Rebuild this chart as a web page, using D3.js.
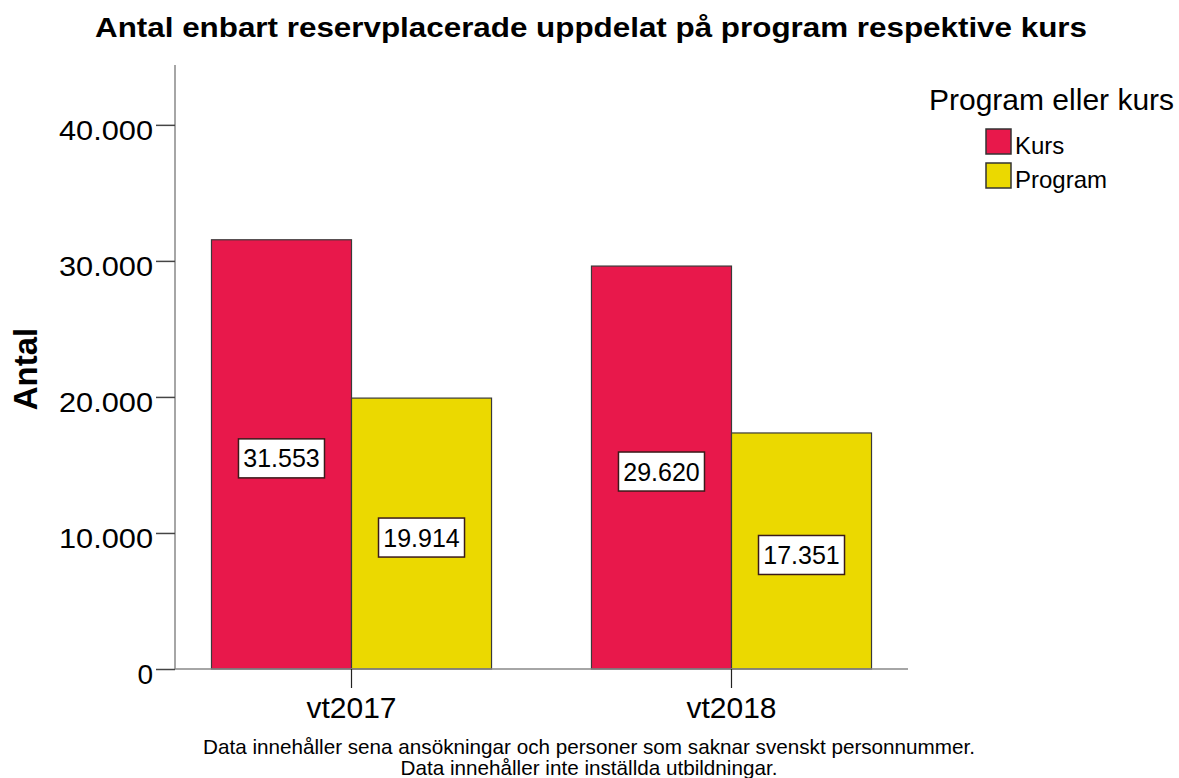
<!DOCTYPE html>
<html>
<head>
<meta charset="utf-8">
<script src="https://cdn.jsdelivr.net/npm/d3@7"></script>
<style>
  body { margin: 0; background: #fff; }
  text { font-family: "Liberation Sans", Arial, sans-serif; fill: #000; }
</style>
</head>
<body>
<svg id="chart" width="1179" height="778"></svg>
<script>
// data
var terms = ["vt2017", "vt2018"];
var types = ["Kurs", "Program"];
var kursValues = [31553, 29620];
var programValues = [19914, 17351];
var yTicks = [0, 10000, 20000, 30000, 40000];
var footnotes = [
  "Data innehåller sena ansökningar och personer som saknar svenskt personnummer.",
  "Data innehåller inte inställda utbildningar."
];

var colors = { "Kurs": "#e8184b", "Program": "#ebd900" };

var rows = [];
terms.forEach(function(t, i) {
  rows.push({ term: t, type: "Kurs", value: kursValues[i] });
  rows.push({ term: t, type: "Program", value: programValues[i] });
});

var svg = d3.select("#chart");
var fmt = d3.formatLocale({ decimal: ",", thousands: ".", grouping: [3], currency: ["", ""] }).format(",d");

// the reference text is a bit wider than Liberation Sans, stretch it
function stretch(sel, k) {
  sel.each(function() {
    var w = this.getComputedTextLength();
    d3.select(this).attr("textLength", w * k).attr("lengthAdjust", "spacingAndGlyphs");
  });
}

// scales
var x = d3.scaleBand()
    .domain(terms)
    .range([175, 908])
    .paddingInner(0.263)
    .paddingOuter(0.096);

var xInner = d3.scaleBand()
    .domain(types)
    .range([0, x.bandwidth()]);

var y = d3.scaleLinear()
    .domain([0, 44400])
    .range([669, 65]);

// title
svg.append("text")
    .attr("x", 591)
    .attr("y", 37)
    .attr("text-anchor", "middle")
    .attr("font-size", "27px")
    .attr("font-weight", "bold")
    .attr("textLength", 992)
    .attr("lengthAdjust", "spacingAndGlyphs")
    .text("Antal enbart reservplacerade uppdelat på program respektive kurs");

// bars
svg.append("g")
    .selectAll("rect")
    .data(rows)
    .enter()
    .append("rect")
        .attr("x", function(d) { return x(d.term) + xInner(d.type); })
        .attr("y", function(d) { return y(d.value); })
        .attr("width", xInner.bandwidth())
        .attr("height", function(d) { return y(0) - y(d.value); })
        .attr("fill", function(d) { return colors[d.type]; })
        .attr("stroke", "#3a3a3a")
        .attr("stroke-width", 1.2);

// y axis
var yAxis = svg.append("g")
    .attr("transform", "translate(175,0)")
    .call(d3.axisLeft(y).tickValues(yTicks).tickSize(19).tickPadding(3).tickFormat(fmt));
yAxis.select(".domain").attr("stroke", "#888").attr("stroke-width", 1.5).attr("d", "M0," + y(0) + "V65");
yAxis.selectAll(".tick line").attr("stroke", "#444").attr("stroke-width", 1.5);
yAxis.selectAll(".tick text")
    .attr("font-size", "28px")
    .attr("font-family", "Liberation Sans, Arial, sans-serif")
    .attr("fill", "#111")
    .attr("dy", "0.52em")
    .filter(function(d) { return d > 0; })
    .attr("textLength", 94)
    .attr("lengthAdjust", "spacingAndGlyphs");

// x axis
var xAxis = svg.append("g")
    .attr("transform", "translate(0," + y(0) + ")")
    .call(d3.axisBottom(x).tickSize(19).tickPadding(9));
xAxis.select(".domain").attr("stroke", "#888").attr("stroke-width", 1.5).attr("d", "M175,0H908");
xAxis.selectAll(".tick line").attr("stroke", "#222").attr("stroke-width", 1.2);
xAxis.selectAll(".tick text")
    .attr("font-size", "30px")
    .attr("font-family", "Liberation Sans, Arial, sans-serif")
    .attr("fill", "#111");

// y axis label
svg.append("text")
    .attr("transform", "translate(37,369) rotate(-90)")
    .attr("text-anchor", "middle")
    .attr("font-size", "33px")
    .attr("font-weight", "bold")
    .text("Antal");

// value labels
var labels = svg.append("g")
    .selectAll("g")
    .data(rows)
    .enter()
    .append("g")
    .attr("transform", function(d) {
        var cx = x(d.term) + xInner(d.type) + xInner.bandwidth() / 2;
        var cy = (y(0) + y(d.value)) / 2 + 4;
        return "translate(" + cx + "," + cy + ")";
    });

labels.append("rect")
    .attr("x", -43)
    .attr("y", -19.5)
    .attr("width", 86)
    .attr("height", 39)
    .attr("fill", "#fff")
    .attr("stroke", "#3a1a1a")
    .attr("stroke-width", 1.5);

labels.append("text")
    .attr("text-anchor", "middle")
    .attr("dy", "0.36em")
    .attr("font-size", "25px")
    .attr("fill", "#222")
    .text(function(d) { return fmt(d.value); });

// legend
var legend = svg.append("g")
    .attr("transform", "translate(929,0)");

legend.append("text")
    .attr("x", 0)
    .attr("y", 110)
    .attr("font-size", "30px")
    .text("Program eller kurs");

var items = legend.selectAll("g.item")
    .data(types)
    .enter()
    .append("g")
    .attr("class", "item")
    .attr("transform", function(d, i) { return "translate(57," + (129 + i * 34) + ")"; });

items.append("rect")
    .attr("width", 25)
    .attr("height", 25)
    .attr("fill", function(d) { return colors[d]; })
    .attr("stroke", "#333")
    .attr("stroke-width", 1.5);

items.append("text")
    .attr("x", 29)
    .attr("y", 25)
    .attr("font-size", "24px")
    .attr("fill", "#222")
    .text(function(d) { return d; });

// footnotes
var notes = svg.append("g")
    .selectAll("text")
    .data(footnotes)
    .enter()
    .append("text")
        .attr("x", 589)
        .attr("y", function(d, i) { return 754 + i * 21; })
        .attr("text-anchor", "middle")
        .attr("font-size", "21px")
        .attr("fill", "#111")
        .text(function(d) { return d; });

var k = 772 / notes.node().getComputedTextLength();
notes.call(stretch, k);
</script>
</body>
</html>
